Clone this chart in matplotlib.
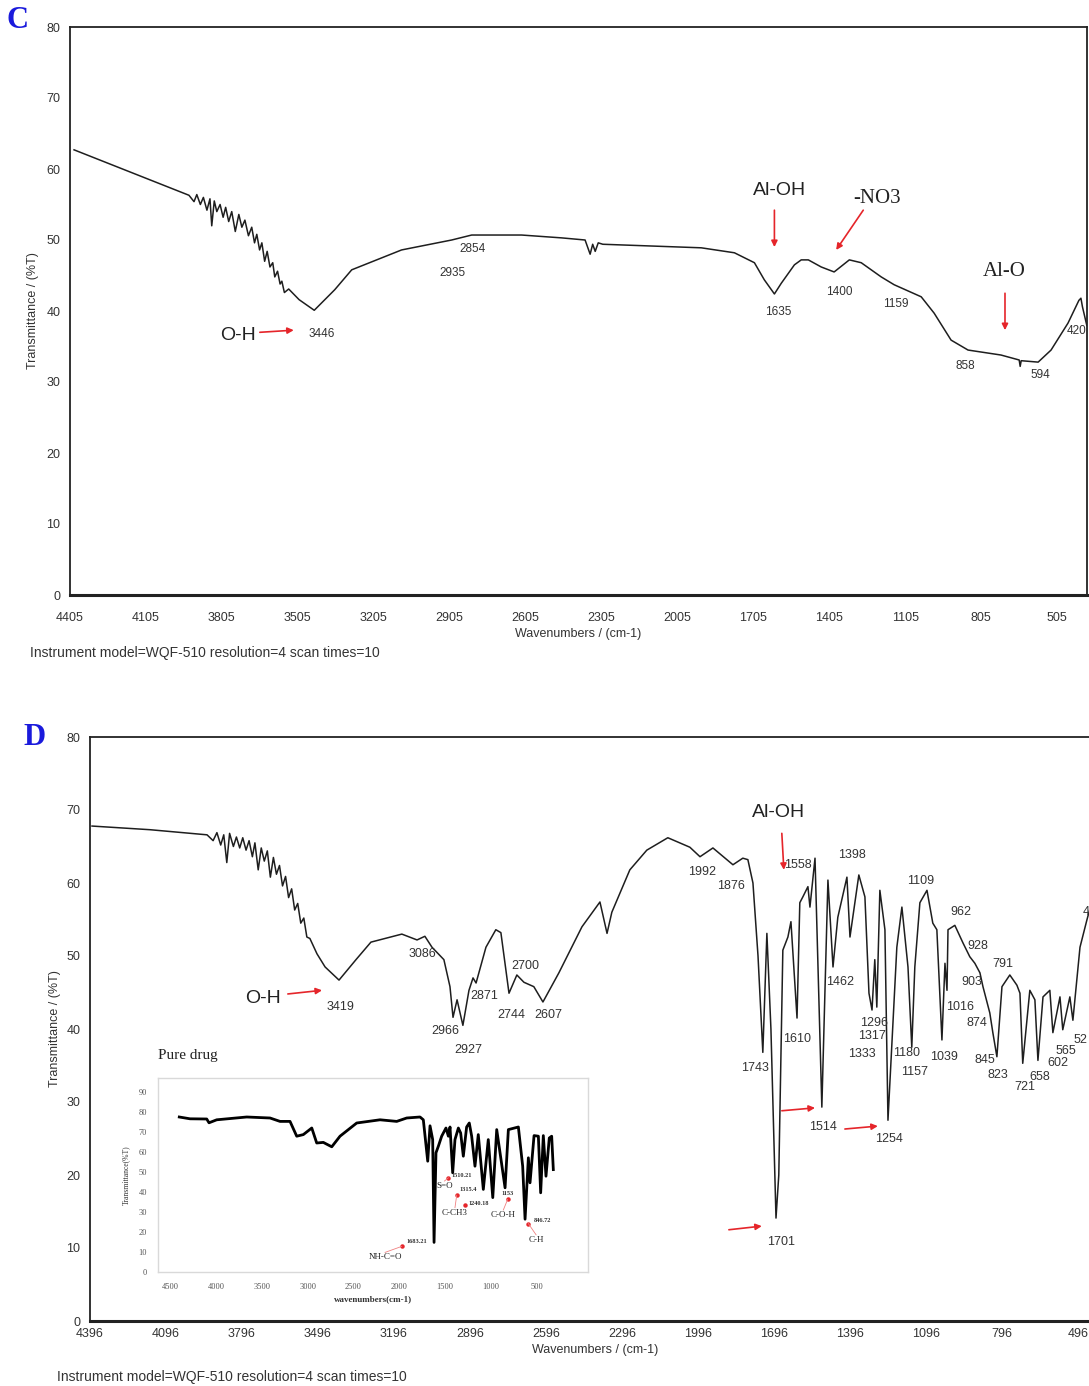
import matplotlib.pyplot as plt

# ---------------- panel C : FTIR trace (wavenumber cm-1, %T) ----------------
c_wave = [4389, 3935, 3915, 3904, 3890, 3878, 3864, 3852, 3845, 3835, 3825, 3812,
          3800, 3790, 3778, 3766, 3752, 3738, 3726, 3714, 3700, 3687, 3676, 3667,
          3656, 3647, 3636, 3626, 3615, 3604, 3596, 3585, 3575, 3568, 3558, 3541,
          3500, 3440, 3359, 3292, 3095, 2897, 2818, 2621, 2463, 2370, 2350, 2340,
          2330, 2318, 2300, 1911, 1780, 1701, 1662, 1622, 1595, 1543, 1516, 1488,
          1437, 1386, 1326, 1279, 1200, 1149, 1042, 991, 924, 857, 727, 655, 651,
          647, 580, 529, 462, 419, 411, 405, 388]
c_trans = [62.7, 56.3, 55.4, 56.4, 55.0, 56.0, 54.2, 55.8, 52.0, 55.5, 54.0, 55.0,
           53.2, 54.6, 52.6, 54.0, 51.2, 53.6, 51.8, 52.8, 50.6, 51.8, 49.6, 50.8,
           48.6, 49.6, 47.0, 48.4, 46.2, 46.8, 44.8, 45.6, 43.8, 44.2, 42.6, 43.1,
           41.6, 40.1, 43.0, 45.8, 48.6, 50.0, 50.7, 50.7, 50.3, 50.0, 48.0, 49.4,
           48.4, 49.6, 49.4, 48.9, 48.2, 46.8, 44.4, 42.4, 43.9, 46.5, 47.2, 47.2,
           46.2, 45.5, 47.2, 46.8, 44.8, 43.7, 42.0, 39.7, 35.9, 34.5, 33.8, 33.1,
           32.2, 33.0, 32.8, 34.5, 38.3, 41.5, 41.8, 40.6, 38.0]

c_xticks = [4405, 4105, 3805, 3505, 3205, 2905, 2605, 2305, 2005, 1705, 1405, 1105, 805, 505]
c_peaks = [("3446", 3410, 36.8), ("2935", 2893, 45.4), ("2854", 2814, 48.7),
           ("1635", 1607, 39.9), ("1400", 1366, 42.7), ("1159", 1141, 41.0),
           ("858", 869, 32.3), ("594", 573, 31.0), ("420", 430, 37.2)]

# ---------------- panel D : FTIR trace ----------------
d_wave = [4388, 4159, 3934, 3910, 3895, 3880, 3868, 3856, 3845, 3830, 3818, 3805,
          3793, 3780, 3768, 3755, 3745, 3732, 3720, 3708, 3696, 3684, 3672, 3660,
          3648, 3636, 3624, 3612, 3600, 3588, 3576, 3564, 3552, 3540, 3528, 3500,
          3468, 3413, 3346, 3287, 3165, 3105, 3074, 3046, 2999, 2975, 2963, 2947,
          2924, 2900, 2884, 2872, 2833, 2794, 2774, 2742, 2711, 2683, 2644, 2608,
          2545, 2454, 2383, 2355, 2336, 2265, 2198, 2115, 2028, 1988, 1937, 1882,
          1858, 1819, 1799, 1779, 1759, 1740, 1724, 1708, 1688, 1677, 1661, 1641,
          1629, 1605, 1594, 1582, 1562, 1554, 1534, 1507, 1483, 1463, 1444, 1408,
          1396, 1361, 1337, 1321, 1309, 1298, 1290, 1278, 1258, 1246, 1211, 1191,
          1167, 1152, 1140, 1120, 1092, 1069, 1053, 1033, 1021, 1013, 1009, 982,
          950, 923, 903, 883, 871, 844, 832, 816, 796, 765, 737, 725, 714, 686,
          666, 654, 634, 607, 595, 567, 556, 528, 516, 488, 461, 441]
d_trans = [67.8, 67.3, 66.6, 65.8, 66.9, 65.2, 66.6, 62.8, 66.8, 65.0, 66.3, 64.8,
           66.2, 64.5, 65.8, 63.6, 65.5, 61.8, 64.8, 63.0, 64.4, 60.8, 63.5, 61.2,
           62.4, 59.6, 60.9, 58.0, 59.2, 56.3, 57.2, 54.5, 55.2, 52.6, 52.4, 50.3,
           48.5, 46.7, 49.5, 51.9, 53.0, 52.2, 52.7, 51.2, 49.5, 45.8, 41.6, 44.0,
           40.5, 45.3, 47.0, 46.3, 51.2, 53.6, 53.2, 44.9, 47.4, 46.4, 45.8, 43.7,
           47.7, 54.0, 57.4, 53.1, 56.0, 61.8, 64.5, 66.2, 64.9, 63.6, 64.8, 63.2,
           62.5, 63.4, 63.2, 60.0, 50.0, 36.8, 53.1, 40.0, 14.1, 20.0, 50.8, 52.6,
           54.7, 41.5, 57.3, 58.1, 59.5, 56.7, 63.4, 29.3, 60.4, 48.5, 55.3, 60.8,
           52.6, 61.1, 58.1, 44.9, 42.6, 49.5, 43.0, 59.0, 53.6, 27.5, 51.2, 56.7,
           48.5, 37.5, 48.5, 57.3, 59.0, 54.5, 53.6, 38.5, 49.0, 45.3, 53.6, 54.2,
           51.8, 49.9, 49.0, 47.7, 45.8, 42.2, 39.5, 36.2, 45.8, 47.4, 46.0, 44.9,
           35.3, 45.3, 44.0, 35.7, 44.4, 45.3, 39.5, 44.4, 39.9, 44.4, 41.2, 51.2,
           54.9, 57.5]

d_xticks = [4396, 4096, 3796, 3496, 3196, 2896, 2596, 2296, 1996, 1696, 1396, 1096, 796, 496]
d_peaks = [("3419", 3409, 43.0), ("3086", 3082, 50.3), ("2966", 2995, 39.7),
           ("2927", 2904, 37.1), ("2871", 2841, 44.5), ("2700", 2679, 48.6),
           ("2744", 2734, 41.9), ("2607", 2588, 41.9), ("1992", 1980, 61.5),
           ("1876", 1866, 59.6), ("1558", 1602, 62.5), ("1398", 1388, 63.8),
           ("1109", 1116, 60.3), ("962", 958, 56.0), ("928", 891, 51.4),
           ("903", 915, 46.4), ("791", 792, 48.9), ("1462", 1436, 46.4),
           ("1016", 962, 43.0), ("874", 895, 40.8), ("1296", 1302, 40.8),
           ("1317", 1310, 39.0), ("1333", 1349, 36.6), ("1180", 1171, 36.7),
           ("1039", 1025, 36.2), ("1157", 1140, 34.1), ("845", 864, 35.8),
           ("823", 812, 33.7), ("721", 706, 32.1), ("658", 646, 33.4),
           ("602", 575, 35.3), ("565", 544, 37.0), ("1610", 1606, 38.6),
           ("1743", 1771, 34.7), ("1701", 1669, 10.8), ("1514", 1503, 26.6),
           ("1254", 1242, 24.9)]
# labels that run off the right edge in the original, shown as far as visible
d_edge = [("52", 512, 38.5), ("4", 477, 56.0)]

# ---------------- inset : pure drug ----------------
p_wave = [4399, 4282, 4100, 4075, 3991, 3664, 3410, 3301, 3192, 3119, 3047, 2955,
          2901, 2829, 2737, 2647, 2465, 2211, 2029, 1920, 1775, 1739, 1691, 1666,
          1637, 1622, 1601, 1575, 1539, 1492, 1466, 1448, 1419, 1394, 1357, 1332,
          1303, 1267, 1238, 1212, 1176, 1140, 1085, 1031, 982, 939, 848, 812, 703,
          656, 630, 594, 576, 532, 485, 460, 431, 402, 366, 340, 322]
p_trans = [77.5, 76.6, 76.5, 74.6, 76.1, 77.5, 77.0, 75.3, 75.3, 67.9, 68.7, 72.0,
           64.5, 64.8, 62.6, 67.9, 74.5, 76.1, 75.3, 77.0, 77.5, 76.1, 55.4, 73.1,
           66.2, 14.8, 59.6, 62.9, 67.9, 72.0, 67.9, 72.5, 49.6, 66.2, 72.0, 69.5,
           57.9, 72.5, 74.5, 67.9, 52.9, 68.7, 41.3, 66.2, 37.2, 71.2, 42.1, 71.2,
           72.5, 52.9, 26.4, 57.1, 44.6, 68.2, 67.9, 39.6, 68.2, 47.9, 67.0, 67.9, 51.2]
p_xticks = [4500, 4000, 3500, 3000, 2500, 2000, 1500, 1000, 500]
p_yticks = [0, 10, 20, 30, 40, 50, 60, 70, 80, 90]
# (peak label, dot wave, dot %T, label wave, label %T, group name, name wave, name %T)
p_marks = [("1683.21", 1975, 12.8, 1811, 15.3, "NH-C=O", 2156, 7.3),
           ("1510.21", 1466, 47.1, 1321, 48.4, "S=O", 1508, 43.0),
           ("1315.4", 1375, 38.4, 1248, 41.3, "C-CH3", 1394, 29.7),
           ("1240.18", 1285, 33.3, 1140, 34.3, "", 0, 0),
           ("1153", 820, 36.3, 820, 39.3, "C-O-H", 867, 28.5),
           ("846.72", 594, 24.2, 438, 26.0, "C-H", 510, 16.1)]

yticks = [0, 10, 20, 30, 40, 50, 60, 70, 80]

sans = ['Liberation Sans Narrow', 'Liberation Sans', 'DejaVu Sans']
serif = ['Liberation Serif', 'DejaVu Serif']
plt.rcParams['font.family'] = sans

RED = '#e5252a'
LINE = '#1e1e1e'

fig = plt.figure(figsize=(10.89, 13.86), dpi=100)


def style_main(ax, xticks, left, right, pad_x, ylab_pad, xlab_pad):
    ax.set_xlim(left, right)
    ax.set_ylim(0, 80)
    ax.set_xticks(xticks)
    ax.set_xticklabels([str(t) for t in xticks])
    ax.set_yticks(yticks)
    ax.tick_params(length=0, labelsize=9, colors='#333333')
    ax.tick_params(axis='x', pad=pad_x)
    ax.tick_params(axis='y', pad=7)
    for s in ax.spines.values():
        s.set_color('#222222')
        s.set_linewidth(1.3)
    ax.spines['bottom'].set_linewidth(2.2)
    ax.set_ylabel('Transmittance / (%T)', fontsize=9, color='#333333', labelpad=ylab_pad)
    ax.set_xlabel('Wavenumbers / (cm-1)', fontsize=9, color='#333333', labelpad=xlab_pad)


def arrow(ax, x0, y0, x1, y1):
    ax.annotate('', xy=(x1, y1), xytext=(x0, y0),
                arrowprops=dict(arrowstyle='-|>', color=RED, lw=1.2,
                                mutation_scale=9, shrinkA=0, shrinkB=0))


# ---- panel C ----
axC = fig.add_axes([70 / 1089, 1 - 595 / 1386, 1017 / 1089, 568 / 1386])
axC.plot(c_wave, c_trans, color=LINE, lw=1.1)
style_main(axC, c_xticks, 4397, 387, 12, 5, 3)
for lab, x, y in c_peaks:
    axC.text(x, y, lab, fontsize=8.5, color='#333333', ha='center', va='center')
axC.text(3742, 36.6, 'O-H', fontsize=14, ha='center', va='center', color='#222222')
arrow(axC, 3655, 37.0, 3521, 37.3)
axC.text(1603, 57.0, 'Al-OH', fontsize=14, ha='center', va='center', color='#222222')
arrow(axC, 1622, 54.2, 1622, 49.0)
axC.text(1216, 55.8, '-NO3', fontsize=15, ha='center', va='center',
         color='#222222', family=serif)
arrow(axC, 1271, 54.2, 1378, 48.6)
axC.text(715, 45.6, 'Al-O', fontsize=15, ha='center', va='center',
         color='#222222', family=serif)
arrow(axC, 711, 42.5, 711, 37.3)

fig.text(18 / 1089, 1 - 20 / 1386, 'C', fontsize=22, fontweight='bold',
         color='#1a1adc', family=serif, ha='center', va='center')
fig.text(30 / 1089, 1 - 653 / 1386, 'Instrument model=WQF-510 resolution=4 scan times=10',
         fontsize=10, color='#333333', ha='left', va='center')

# ---- panel D ----
axD = fig.add_axes([90 / 1089, 1 - 1321 / 1386, 1010 / 1089, 584 / 1386])
axD.plot(d_wave, d_trans, color=LINE, lw=1.1)
style_main(axD, d_xticks, 4396, 409, 5, 4, 3)
axD.spines['right'].set_visible(False)
for lab, x, y in d_peaks:
    axD.text(x, y, lab, fontsize=9, color='#333333', ha='center', va='center')
for lab, x, y in d_edge:
    axD.text(x, y, lab, fontsize=9, color='#333333', ha='left', va='center')
axD.text(3713, 44.2, 'O-H', fontsize=14, ha='center', va='center', color='#222222')
arrow(axD, 3615, 44.8, 3480, 45.3)
axD.text(1677, 69.6, 'Al-OH', fontsize=14, ha='center', va='center', color='#222222')
arrow(axD, 1665, 66.8, 1657, 61.8)
arrow(axD, 1874, 12.5, 1744, 13.0)
arrow(axD, 1665, 28.8, 1534, 29.2)
arrow(axD, 1416, 26.3, 1286, 26.7)

fig.text(35 / 1089, 1 - 738 / 1386, 'D', fontsize=22, fontweight='bold',
         color='#1a1adc', family=serif, ha='center', va='center')
fig.text(57 / 1089, 1 - 1377 / 1386, 'Instrument model=WQF-510 resolution=4 scan times=10',
         fontsize=10, color='#333333', ha='left', va='center')

# ---- inset ----
axI = fig.add_axes([158 / 1089, 1 - 1272 / 1386, 430 / 1089, 194 / 1386])
axI.plot(p_wave, p_trans, color='black', lw=2.0)
axI.set_xlim(4631, -56)
axI.set_ylim(0, 97)
axI.set_xticks(p_xticks)
axI.set_yticks(p_yticks)
axI.tick_params(length=0, labelsize=6, colors='#555555', pad=8)
for t in axI.get_xticklabels() + axI.get_yticklabels():
    t.set_family(serif)
for s in axI.spines.values():
    s.set_color('#d9d9d9')
    s.set_linewidth(1.0)
axI.set_xlabel('wavenumbers(cm-1)', fontsize=6.5, family=serif, fontweight='bold',
               color='#333333', labelpad=3)
axI.set_ylabel('Transmittance(%T)', fontsize=5.5, family=serif, color='#333333', labelpad=6)
for lab, dx, dy, lx, ly, name, nx, ny in p_marks:
    axI.plot([dx], [dy], 'o', color=RED, ms=2.2)
    axI.text(lx, ly, lab, fontsize=4.5, family=serif, fontweight='bold',
             color='#333333', ha='center', va='center')
    if name:
        axI.plot([nx, dx], [ny + 2.5, dy], color='#f08080', lw=0.6)
        axI.text(nx, ny, name, fontsize=6.5, family=serif, color='#222222',
                 ha='center', va='center')
fig.text(158 / 1089, 1 - 1055 / 1386, 'Pure drug', fontsize=11, family=serif,
         color='#222222', ha='left', va='center')

fig.savefig('out.png', dpi=100)
